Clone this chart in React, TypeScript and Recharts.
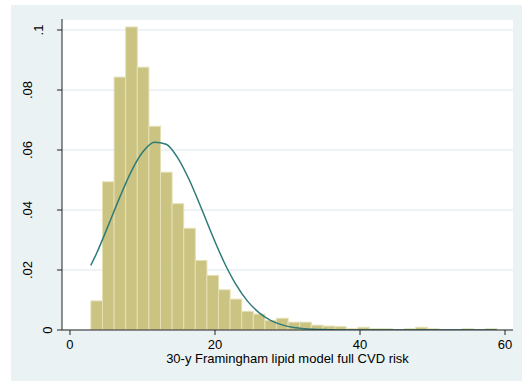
import { ComposedChart, Bar, Line, XAxis, YAxis, CartesianGrid, Label } from "recharts";

// histogram: 35 bins of width 1.6, first bin starts at 2.86
const BIN_START = 2.86;
const BIN_WIDTH = 1.6;
const binDensity = [
  0.0097, 0.0494, 0.0843, 0.101, 0.0876, 0.0679, 0.0526, 0.0421, 0.0339, 0.0232,
  0.0182, 0.0134, 0.0103, 0.0062, 0.0053, 0.0032, 0.0039, 0.0026, 0.0026, 0.0016,
  0.0013, 0.0011, 0.0004, 0.0009, 0.0004, 0.0004, 0, 0.0004, 0.0009, 0.0004,
  0, 0, 0.0004, 0, 0.0004,
];
// normal overlay, read at the data start, at each bin midpoint, and at the data end
const normalCurve = [
  0.0215,
  0.0255, 0.0347, 0.0442, 0.0529, 0.0594, 0.0626, 0.0619, 0.0574, 0.05, 0.0409,
  0.0314, 0.0226, 0.0153, 0.0097, 0.0058, 0.0032, 0.0017, 0.0008, 0.0004, 0.0002,
  0.0001, 0, 0, 0, 0, 0, 0, 0, 0, 0,
  0, 0, 0, 0, 0,
  0,
];
const xTicks = [0, 20, 40, 60];
const yTicks = [0, 0.02, 0.04, 0.06, 0.08, 0.1];
const xTitle = "30-y Framingham lipid model full CVD risk";

const X_MIN = -1.1;
const X_MAX = 61.1;
const Y_MAX = 0.10367;

const W = 523;
const H = 381;
const PLOT_LEFT = 62;
const PLOT_RIGHT = 513;
const PLOT_TOP = 19;
const PLOT_BOTTOM = 330;
const Y_AXIS_W = 40;
const X_AXIS_H = 30;
const BAR_PX = (BIN_WIDTH * (PLOT_RIGHT - PLOT_LEFT)) / (X_MAX - X_MIN);

const FONT = "'Liberation Sans', Arial, Helvetica, sans-serif";

// the vertical y labels sit further from the axis the longer they are
const Y_LABEL_BASELINE: Record<number, number> = { 1: 52, 2: 43.5, 3: 32 };

const binEnd = BIN_START + BIN_WIDTH * binDensity.length;
const xs = [BIN_START, ...binDensity.map((_, i) => BIN_START + BIN_WIDTH * (i + 0.5)), binEnd];
const data = xs.map((x, i) => ({
  x,
  density: i === 0 || i === xs.length - 1 ? undefined : binDensity[i - 1],
  normal: normalCurve[i],
}));

const fmtY = (v: number) => (v === 0 ? "0" : String(v).replace(/^0/, ""));

const HistBar = (props: any) => {
  const { x, y, width, height } = props;
  if (!height || height <= 0) return null;
  const cx = x + width / 2;
  return (
    <rect
      x={cx - BAR_PX / 2}
      y={y}
      width={BAR_PX}
      height={height}
      fill="#cac382"
      stroke="#e4e0b4"
      strokeWidth={1}
    />
  );
};

const YTick = ({ y, payload }: any) => {
  const label = fmtY(payload.value);
  const bx = Y_LABEL_BASELINE[label.length] ?? 32;
  return (
    <text
      x={bx}
      y={y}
      transform={`rotate(-90 ${bx} ${y})`}
      textAnchor="middle"
      fontSize={13}
      fill="#000"
      fontFamily={FONT}
    >
      {label}
    </text>
  );
};

export default function App() {
  return (
    <div style={{ position: "absolute", left: 0, top: 0, width: W, height: H, background: "#fff" }}>
      <div
        style={{ position: "absolute", left: 11, top: 5, width: 511, height: 376, background: "#eaf2f3" }}
      />
      <div style={{ position: "absolute", left: 0, top: 0 }}>
        <ComposedChart
          width={W}
          height={H}
          data={data}
          margin={{
            left: PLOT_LEFT - Y_AXIS_W,
            right: W - PLOT_RIGHT,
            top: PLOT_TOP,
            bottom: H - PLOT_BOTTOM - X_AXIS_H,
          }}
          style={{ fontFamily: FONT }}
        >
          <CartesianGrid vertical={false} stroke="#e9f0f2" strokeWidth={1.5} fill="#fff" />
          <XAxis
            type="number"
            dataKey="x"
            domain={[X_MIN, X_MAX]}
            allowDataOverflow
            ticks={xTicks}
            height={X_AXIS_H}
            tickSize={5}
            tickMargin={5}
            stroke="#222"
            tick={{ fontSize: 13, fill: "#000" }}
          >
            <Label value={xTitle} position="insideBottom" offset={-3} fontSize={13} fill="#000" />
          </XAxis>
          <YAxis
            type="number"
            domain={[0, Y_MAX]}
            allowDataOverflow
            ticks={yTicks}
            width={Y_AXIS_W}
            tickSize={5}
            stroke="#222"
            tick={<YTick />}
          />
          <Bar dataKey="density" shape={<HistBar />} isAnimationActive={false} />
          <Line
            type="monotone"
            dataKey="normal"
            stroke="#2e7b78"
            strokeWidth={1.5}
            dot={false}
            activeDot={false}
            isAnimationActive={false}
          />
        </ComposedChart>
      </div>
    </div>
  );
}
